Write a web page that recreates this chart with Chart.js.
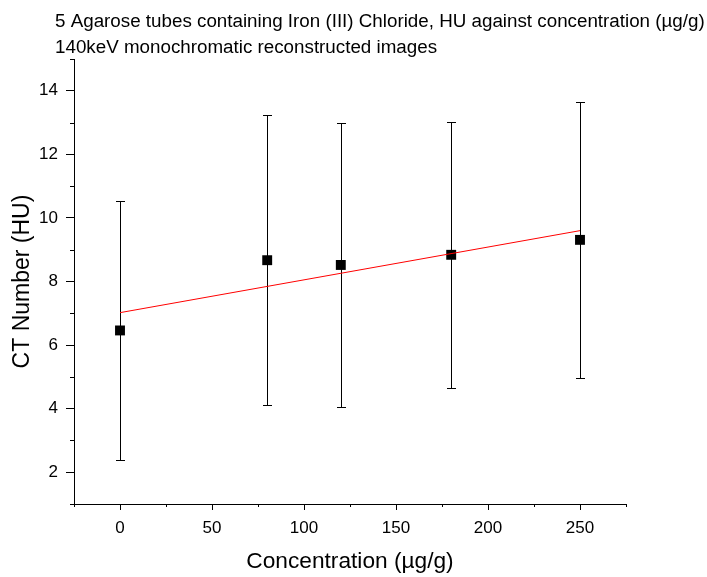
<!DOCTYPE html>
<html>
<head>
<meta charset="utf-8">
<script src="https://cdn.jsdelivr.net/npm/chart.js@4.4.0/dist/chart.umd.min.js"></script>
<style>
  html, body { margin: 0; padding: 0; background: #ffffff; }
  canvas { display: block; }
</style>
</head>
<body>
<canvas id="chart" width="707" height="577"></canvas>
<script>
// Mean CT number of each agarose tube and its standard deviation
const concentration = [0, 80, 120, 180, 250];
const ctNumber = [6.46, 8.67, 8.52, 8.84, 9.31];
const ctError = [4.08, 4.57, 4.46, 4.19, 4.35];

// Linear fit end points
const fitConcentration = [0, 250];
const fitCtNumber = [7.02, 9.60];

// Axis ticks
const xTicks = [0, 50, 100, 150, 200, 250];
const xMinorTicks = [-25, 25, 75, 125, 175, 225, 275];
const yTicks = [2, 4, 6, 8, 10, 12, 14];
const yMinorTicks = [1, 3, 5, 7, 9, 11, 13, 15];

const titleLines = [
  '5 Agarose tubes containing Iron (III) Chloride, HU against concentration (µg/g)',
  '140keV monochromatic reconstructed images'
];

const FONT = "'Liberation Sans', Arial, sans-serif";

// Vertical error bars with caps, drawn beneath the square markers
const errorBarPlugin = {
  id: 'errorBars',
  beforeDatasetsDraw(chart) {
    const { ctx, scales: { x, y } } = chart;
    ctx.save();
    ctx.strokeStyle = '#000000';
    ctx.lineWidth = 1;
    concentration.forEach((c, i) => {
      const px = Math.round(x.getPixelForValue(c)) + 0.5;
      const top = Math.round(y.getPixelForValue(ctNumber[i] + ctError[i])) + 0.5;
      const bot = Math.round(y.getPixelForValue(ctNumber[i] - ctError[i])) + 0.5;
      ctx.beginPath();
      ctx.moveTo(px, top); ctx.lineTo(px, bot);
      ctx.moveTo(px - 4.5, top); ctx.lineTo(px + 4.5, top);
      ctx.moveTo(px - 4.5, bot); ctx.lineTo(px + 4.5, bot);
      ctx.stroke();
    });
    ctx.restore();
  }
};

// Short minor ticks on the outside of both axes
const minorTickPlugin = {
  id: 'minorTicks',
  afterDraw(chart) {
    const { ctx, scales: { x, y } } = chart;
    ctx.save();
    ctx.strokeStyle = '#000000';
    ctx.lineWidth = 1;
    ctx.beginPath();
    xMinorTicks.forEach(v => {
      const px = Math.round(x.getPixelForValue(v)) + 0.5;
      ctx.moveTo(px, y.bottom); ctx.lineTo(px, y.bottom + 3);
    });
    yMinorTicks.forEach(v => {
      const py = Math.round(y.getPixelForValue(v)) + 0.5;
      ctx.moveTo(x.left, py); ctx.lineTo(x.left - 4, py);
    });
    ctx.stroke();
    ctx.restore();
  }
};

// Two-line heading, left aligned
const headingPlugin = {
  id: 'heading',
  afterDraw(chart) {
    const { ctx } = chart;
    ctx.save();
    ctx.fillStyle = '#000000';
    ctx.font = `18.8px ${FONT}`;
    ctx.textAlign = 'left';
    ctx.textBaseline = 'alphabetic';
    ctx.fillText(titleLines[0], 55, 27);
    ctx.fillText(titleLines[1], 55, 53);
    ctx.restore();
  }
};

function axisStyle(tickLength) {
  return {
    type: 'linear',
    border: { display: true, color: '#000000', width: 1 },
    grid: {
      display: true,
      drawOnChartArea: false,
      drawTicks: true,
      tickLength: tickLength,
      tickColor: '#000000',
      color: '#000000'
    }
  };
}

new Chart(document.getElementById('chart'), {
  type: 'scatter',
  data: {
    datasets: [
      {
        label: 'CT Number',
        data: concentration.map((c, i) => ({ x: c, y: ctNumber[i] })),
        pointStyle: 'rect',
        pointRadius: 7,
        pointBorderWidth: 0,
        backgroundColor: '#000000',
        borderColor: '#000000',
        showLine: false,
        order: 1
      },
      {
        type: 'line',
        label: 'Linear fit',
        data: fitConcentration.map((c, i) => ({ x: c, y: fitCtNumber[i] })),
        borderColor: '#ff0000',
        borderWidth: 1,
        pointRadius: 0,
        fill: false,
        tension: 0,
        order: 0
      }
    ]
  },
  options: {
    responsive: false,
    devicePixelRatio: 1,
    animation: false,
    events: [],
    layout: { padding: { top: 59, right: 81, left: 0, bottom: 0 } },
    plugins: {
      legend: { display: false },
      title: { display: false },
      tooltip: { enabled: false }
    },
    scales: {
      x: {
        ...axisStyle(6),
        position: 'bottom',
        min: -25,
        max: 275,
        afterBuildTicks(scale) { scale.ticks = xTicks.map(v => ({ value: v })); },
        afterFit(scale) { scale.height = 73; },
        ticks: {
          color: '#000000',
          font: { family: FONT, size: 17 },
          padding: 8,
          maxRotation: 0,
          autoSkip: false
        },
        title: {
          display: true,
          text: 'Concentration (µg/g)',
          color: '#000000',
          font: { family: FONT, size: 22.7 },
          padding: { top: 0, bottom: 2 }
        }
      },
      y: {
        ...axisStyle(8),
        position: 'left',
        min: 1,
        max: 15,
        afterBuildTicks(scale) { scale.ticks = yTicks.map(v => ({ value: v })); },
        afterFit(scale) { scale.width = 74; },
        ticks: {
          color: '#000000',
          font: { family: FONT, size: 17 },
          padding: 8,
          autoSkip: false
        },
        title: {
          display: true,
          text: 'CT Number (HU)',
          color: '#000000',
          font: { family: FONT, size: 23 },
          padding: { top: 9, bottom: 0 }
        }
      }
    }
  },
  plugins: [errorBarPlugin, minorTickPlugin, headingPlugin]
});
</script>
</body>
</html>
